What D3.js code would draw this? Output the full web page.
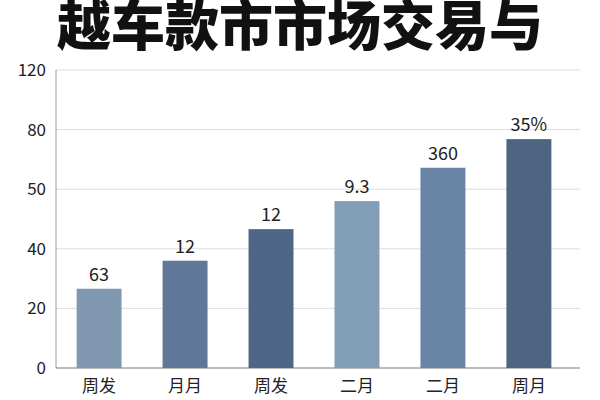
<!DOCTYPE html>
<html><head><meta charset="utf-8">
<script src="https://cdn.jsdelivr.net/npm/d3@7"></script>
<style>body{margin:0;background:#fff}</style>
</head><body><div id="chart"></div>
<script>
const categories = ['周发', '月月', '周发', '二月', '二月', '周月'];
const barLabels = ['63', '12', '12', '9.3', '360', '35%'];
// bar heights in grid steps (the axis labels are not evenly valued)
const barSteps = [1.33, 1.80, 2.33, 2.80, 3.36, 3.84];
const tickLabels = ['0', '20', '40', '50', '80', '120'];
const colors = ['#8099b1', '#5f7898', '#4f6787', '#829db6', '#6984a4', '#4d6580'];

const width = 600, height = 400;
const svg = d3.select('#chart').append('svg')
  .attr('width', width).attr('height', height)
  .attr('font-family', '"Noto Sans CJK SC", sans-serif');

svg.append('text')
  .attr('x', 300).attr('y', 46)
  .attr('text-anchor', 'middle')
  .attr('font-size', 54).attr('font-weight', 900)
  .attr('fill', '#111')
  .text('越车款市市场交易与');

const x = d3.scaleBand().domain(d3.range(categories.length))
  .range([56, 572]).paddingInner(0.477).paddingOuter(0.24);
const y = d3.scaleLinear().domain([0, 5]).range([368, 70]);

svg.append('g').selectAll('line')
  .data(d3.range(1, 6))
  .join('line')
    .attr('x1', 56).attr('x2', 580)
    .attr('y1', d => y(d)).attr('y2', d => y(d))
    .attr('stroke', '#ddd');

svg.append('line').attr('x1', 56).attr('x2', 56).attr('y1', 70).attr('y2', 368).attr('stroke', '#999');
svg.append('line').attr('x1', 56).attr('x2', 580).attr('y1', 368).attr('y2', 368).attr('stroke', '#777');

svg.append('g').selectAll('text')
  .data(tickLabels)
  .join('text')
    .attr('x', 46).attr('y', (d, i) => y(i))
    .attr('dy', '0.35em').attr('text-anchor', 'end')
    .attr('font-size', 17).attr('fill', '#222')
    .text(d => d);

const bar = svg.append('g').selectAll('g')
  .data(barSteps)
  .join('g');
bar.append('rect')
  .attr('x', (d, i) => x(i)).attr('width', x.bandwidth())
  .attr('y', d => y(d)).attr('height', d => y(0) - y(d))
  .attr('fill', (d, i) => colors[i]);
bar.append('text')
  .attr('x', (d, i) => x(i) + x.bandwidth() / 2)
  .attr('y', d => y(d) - 8)
  .attr('text-anchor', 'middle').attr('font-size', 18).attr('fill', '#222')
  .text((d, i) => barLabels[i]);

svg.append('g').selectAll('text')
  .data(categories)
  .join('text')
    .attr('x', (d, i) => x(i) + x.bandwidth() / 2)
    .attr('y', 392)
    .attr('text-anchor', 'middle').attr('font-size', 17).attr('fill', '#222')
    .text(d => d);
</script>
</body></html>
